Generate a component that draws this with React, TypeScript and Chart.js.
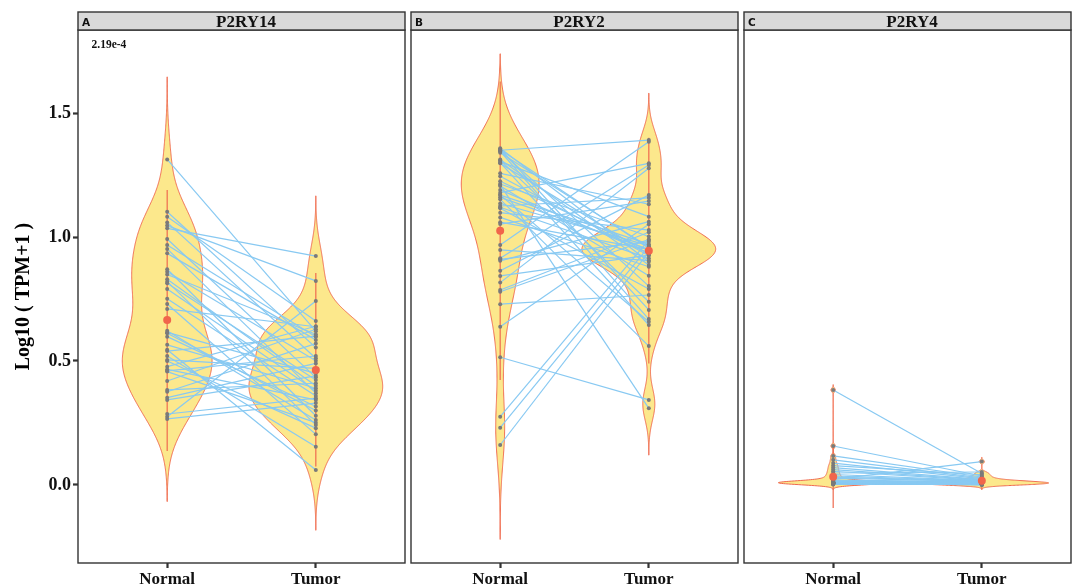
import React, { useEffect, useRef } from "react";
import { Chart, registerables } from "chart.js";
Chart.register(...registerables);

// ---------- data ----------
const CATEGORIES = ["Normal", "Tumor"];
const Y_TICKS = [0, 0.5, 1.0, 1.5];
const PANEL_TAGS = ["A", "B", "C"];
const GENES = ["P2RY14", "P2RY2", "P2RY4"];
const P_LABELS = ["2.19e-4", "", ""];
const Y_TITLE = "Log10 ( TPM+1 )";

// paired samples: index i of NORMAL pairs with index i of TUMOR
const P2RY14_NORMAL = [1.313, 1.102, 1.082, 1.059, 1.046, 1.035, 0.992, 0.968, 0.952, 0.934, 0.870, 0.860, 0.849, 0.820, 0.813, 0.751, 0.730, 0.710, 0.622, 0.615, 0.612, 0.598, 0.545, 0.540, 0.520, 0.504, 0.500, 0.477, 0.466, 0.460, 0.457, 0.419, 0.383, 0.376, 0.790, 0.352, 0.343, 0.565, 0.286, 0.830, 0.275, 0.266];
const P2RY14_TUMOR = [0.620, 0.554, 0.661, 0.511, 0.823, 0.923, 0.434, 0.598, 0.370, 0.585, 0.279, 0.501, 0.608, 0.242, 0.423, 0.359, 0.204, 0.638, 0.262, 0.450, 0.300, 0.316, 0.060, 0.600, 0.154, 0.470, 0.229, 0.640, 0.343, 0.520, 0.251, 0.628, 0.410, 0.570, 0.380, 0.490, 0.440, 0.390, 0.350, 0.400, 0.742, 0.330];
const P2RY14_MEAN = [0.665, 0.464];
const P2RY14_LOW = [0.137, 0.074];
const P2RY14_HIGH = [1.19, 0.855];
const P2RY14_BW = [0.111, 0.081];

const P2RY2_NORMAL = [1.358, 1.355, 1.350, 1.348, 1.345, 1.340, 1.313, 1.310, 1.304, 1.300, 1.297, 1.257, 1.214, 1.210, 1.206, 1.179, 1.170, 1.169, 1.152, 1.125, 1.120, 1.116, 1.098, 1.079, 1.060, 1.052, 0.968, 0.948, 0.914, 0.910, 0.904, 0.864, 0.843, 0.816, 0.786, 0.779, 0.729, 0.638, 0.515, 0.275, 0.231, 0.161, 1.352, 1.225, 1.190, 1.160, 1.135, 1.245];
const P2RY2_TUMOR = [0.900, 0.706, 1.391, 0.802, 0.669, 0.960, 0.887, 0.739, 1.082, 0.645, 0.930, 1.132, 1.002, 0.309, 0.844, 1.297, 0.658, 0.971, 0.560, 1.158, 0.914, 0.790, 1.028, 0.880, 0.950, 1.145, 1.384, 0.905, 1.290, 0.981, 1.062, 1.169, 0.927, 1.277, 1.019, 0.990, 0.766, 1.051, 0.343, 0.988, 0.961, 0.940, 0.955, 0.945, 0.935, 0.950, 0.965, 0.925];
const P2RY2_MEAN = [1.025, 0.945];
const P2RY2_LOW = [0.423, 0.49];
const P2RY2_HIGH = [1.627, 1.40];
const P2RY2_BW = [0.127, 0.063];

const P2RY4_NORMAL = [0.383, 0.157, 0.117, 0.101, 0.088, 0.078, 0.070, 0.062, 0.055, 0.048, 0.042, 0.036, 0.031, 0.027, 0.022, 0.019, 0.016, 0.014, 0.013, 0.012, 0.012, 0.011, 0.011, 0.010, 0.010, 0.010, 0.009, 0.009, 0.009, 0.008, 0.008, 0.008, 0.007, 0.007, 0.007, 0.006, 0.006, 0.005, 0.005, 0.004, 0.003, 0.002];
const P2RY4_TUMOR = [0.046, 0.036, 0.032, 0.028, 0.025, 0.041, 0.022, 0.020, 0.018, 0.052, 0.017, 0.016, 0.015, 0.014, 0.094, 0.013, 0.003, 0.010, 0.006, 0.012, 0.001, 0.008, 0.011, 0.004, 0.009, 0.007, 0.002, 0.012, 0.005, 0.010, 0.000, 0.008, 0.011, 0.003, 0.009, 0.006, 0.001, 0.008, 0.005, 0.007, 0.004, 0.002];
const P2RY4_MEAN = [0.033, 0.017];
const P2RY4_LOW = [-0.093, -0.02];
const P2RY4_HIGH = [0.159, 0.054];
const P2RY4_BW = [0.0072, 0.006];

// ---------- styling ----------
const Y_MIN = -0.315;
const Y_MAX = 1.835;
const X_MIN = 0.4;
const X_MAX = 2.6;
const VIOLIN_FILL = "#FCE88C";
const VIOLIN_EDGE = "#EF6A4F";
const PAIR_LINE = "#88C9F2";
const POINT_COLOR = "#7A7A7A";
const MEAN_COLOR = "#F1654B";
const FRAME = "#333333";
const SERIF = "'Liberation Serif', 'Times New Roman', serif";

const PANELS = [
  { normal: P2RY14_NORMAL, tumor: P2RY14_TUMOR, mean: P2RY14_MEAN, low: P2RY14_LOW, high: P2RY14_HIGH, bw: P2RY14_BW, left: 78, right: 405 },
  { normal: P2RY2_NORMAL, tumor: P2RY2_TUMOR, mean: P2RY2_MEAN, low: P2RY2_LOW, high: P2RY2_HIGH, bw: P2RY2_BW, left: 411, right: 738 },
  { normal: P2RY4_NORMAL, tumor: P2RY4_TUMOR, mean: P2RY4_MEAN, low: P2RY4_LOW, high: P2RY4_HIGH, bw: P2RY4_BW, left: 744, right: 1072 },
];

const W = 1075;
const H = 588;
const PLOT_TOP = 30;
const PLOT_BOTTOM = 563;

function kde(values: number[], bw: number) {
  const lo = Math.min(...values) - 3 * bw;
  const hi = Math.max(...values) + 3 * bw;
  const n = 512;
  const out: { y: number; d: number }[] = [];
  const norm = 1 / (values.length * bw * Math.sqrt(2 * Math.PI));
  for (let i = 0; i < n; i++) {
    const y = lo + ((hi - lo) * i) / (n - 1);
    let s = 0;
    for (const v of values) {
      const z = (y - v) / bw;
      s += Math.exp(-0.5 * z * z);
    }
    out.push({ y, d: s * norm });
  }
  return out;
}

function buildViolins(p: any) {
  const dens = [kde(p.normal, p.bw[0]), kde(p.tumor, p.bw[1])];
  const maxD = Math.max(...dens.map((a) => Math.max(...a.map((q) => q.d))));
  return dens.map((a, g) => ({
    center: g + 1,
    curve: a.map((q) => ({ y: q.y, w: (0.45 * q.d) / maxD })),
  }));
}

function buildConfig(idx: number): any {
  const p = PANELS[idx];
  const violins = buildViolins(p);
  const datasets: any[] = [];
  const showY = idx === 0;

  datasets.push({
    data: [
      { x: 1, y: p.mean[0] },
      { x: 2, y: p.mean[1] },
    ],
    pointRadius: 4,
    pointBackgroundColor: MEAN_COLOR,
    pointBorderWidth: 0,
    order: 0,
  });
  const pts: any[] = [];
  p.normal.forEach((v: number) => pts.push({ x: 1, y: v }));
  p.tumor.forEach((v: number) => pts.push({ x: 2, y: v }));
  datasets.push({
    data: pts,
    pointRadius: 2,
    pointBackgroundColor: POINT_COLOR,
    pointBorderWidth: 0,
    order: 1,
  });
  p.normal.forEach((v: number, i: number) => {
    datasets.push({
      data: [
        { x: 1, y: v },
        { x: 2, y: p.tumor[i] },
      ],
      showLine: true,
      pointRadius: 0,
      borderColor: PAIR_LINE,
      borderWidth: 1.2,
      order: 2,
    });
  });
  [0, 1].forEach((g) => {
    datasets.push({
      data: [
        { x: g + 1, y: p.low[g] },
        { x: g + 1, y: p.high[g] },
      ],
      showLine: true,
      pointRadius: 0,
      borderColor: VIOLIN_EDGE,
      borderWidth: 1.2,
      order: 3,
    });
  });

  const violinPlugin = {
    id: "violins" + idx,
    beforeDatasetsDraw(chart: any) {
      const { ctx, chartArea, scales } = chart;
      const xs = scales.x;
      const ys = scales.y;
      ctx.save();
      ctx.beginPath();
      ctx.rect(chartArea.left, chartArea.top, chartArea.right - chartArea.left, chartArea.bottom - chartArea.top);
      ctx.clip();
      for (const v of violins) {
        ctx.beginPath();
        v.curve.forEach((q, i) => {
          const px = xs.getPixelForValue(v.center + q.w);
          const py = ys.getPixelForValue(q.y);
          if (i === 0) ctx.moveTo(px, py);
          else ctx.lineTo(px, py);
        });
        for (let i = v.curve.length - 1; i >= 0; i--) {
          const q = v.curve[i];
          ctx.lineTo(xs.getPixelForValue(v.center - q.w), ys.getPixelForValue(q.y));
        }
        ctx.closePath();
        ctx.fillStyle = VIOLIN_FILL;
        ctx.fill();
        ctx.lineWidth = 1;
        ctx.strokeStyle = VIOLIN_EDGE;
        ctx.stroke();
      }
      ctx.restore();
    },
  };

  const framePlugin = {
    id: "frame" + idx,
    afterDraw(chart: any) {
      const { ctx, chartArea } = chart;
      const l = chartArea.left;
      const r = chartArea.right;
      ctx.save();
      ctx.strokeStyle = FRAME;
      ctx.lineWidth = 1.4;
      ctx.strokeRect(l, chartArea.top, r - l, chartArea.bottom - chartArea.top);
      ctx.fillStyle = "#D9D9D9";
      ctx.fillRect(l, 12, r - l, PLOT_TOP - 12);
      ctx.strokeRect(l, 12, r - l, PLOT_TOP - 12);
      ctx.fillStyle = "#111";
      ctx.textBaseline = "alphabetic";
      ctx.textAlign = "left";
      ctx.font = "bold 10.5px 'DejaVu Sans', sans-serif";
      ctx.fillText(PANEL_TAGS[idx], l + 4, 25.5);
      ctx.textAlign = "center";
      ctx.font = "bold 17px " + SERIF;
      ctx.fillText(GENES[idx], (l + r) / 2 + 4.5, 26.5);
      if (P_LABELS[idx]) {
        ctx.textAlign = "left";
        ctx.font = "bold 11.5px " + SERIF;
        ctx.fillText(P_LABELS[idx], l + 13.5, 47.5);
      }
      ctx.restore();
    },
  };

  return {
    type: "scatter",
    data: { datasets },
    options: {
      responsive: false,
      devicePixelRatio: 1,
      animation: false,
      events: [],
      layout: {
        padding: { left: showY ? 0 : p.left, right: W - p.right, top: PLOT_TOP, bottom: 0 },
      },
      plugins: { legend: { display: false }, tooltip: { enabled: false } },
      scales: {
        x: {
          type: "linear",
          min: X_MIN,
          max: X_MAX,
          afterFit(s: any) {
            s.height = H - PLOT_BOTTOM;
          },
          afterBuildTicks(s: any) {
            s.ticks = CATEGORIES.map((_, i) => ({ value: i + 1 }));
          },
          ticks: {
            autoSkip: false,
            maxRotation: 0,
            padding: 1,
            color: "#111",
            font: { family: SERIF, size: 17, weight: "bold" },
            callback: (v: any) => CATEGORIES[Math.round(Number(v)) - 1] ?? "",
          },
          grid: {
            drawOnChartArea: false,
            drawTicks: true,
            tickLength: 5,
            tickWidth: 2.2,
            tickColor: FRAME,
            color: FRAME,
          },
          border: { display: false },
        },
        y: {
          type: "linear",
          display: showY,
          min: Y_MIN,
          max: Y_MAX,
          afterFit(s: any) {
            s.width = showY ? 78 : 0;
          },
          afterBuildTicks(s: any) {
            s.ticks = Y_TICKS.map((v) => ({ value: v }));
          },
          ticks: {
            padding: 2,
            color: "#111",
            font: { family: SERIF, size: 18, weight: "bold" },
            callback: (v: any) => Number(v).toFixed(1),
          },
          grid: {
            drawOnChartArea: false,
            drawTicks: true,
            tickLength: 5,
            tickWidth: 2.2,
            tickColor: FRAME,
            color: FRAME,
          },
          border: { display: false },
          title: {
            display: true,
            text: Y_TITLE,
            color: "#000",
            font: { family: SERIF, size: 20, weight: "bold", lineHeight: 1.2 },
            padding: { top: 11.5, bottom: 0 },
          },
        },
      },
    },
    plugins: [violinPlugin, framePlugin],
  };
}

function Panel({ idx }: { idx: number }) {
  const ref = useRef<HTMLCanvasElement>(null);
  useEffect(() => {
    const chart = new Chart(ref.current as HTMLCanvasElement, buildConfig(idx));
    return () => chart.destroy();
  }, [idx]);
  return <canvas ref={ref} width={W} height={H} style={{ position: "absolute", left: 0, top: 0, width: W, height: H }} />;
}

export default function App() {
  return (
    <div style={{ position: "fixed", left: 0, top: 0, width: W, height: H, background: "#fff", overflow: "hidden" }}>
      {PANELS.map((_, i) => (
        <Panel key={i} idx={i} />
      ))}
    </div>
  );
}
